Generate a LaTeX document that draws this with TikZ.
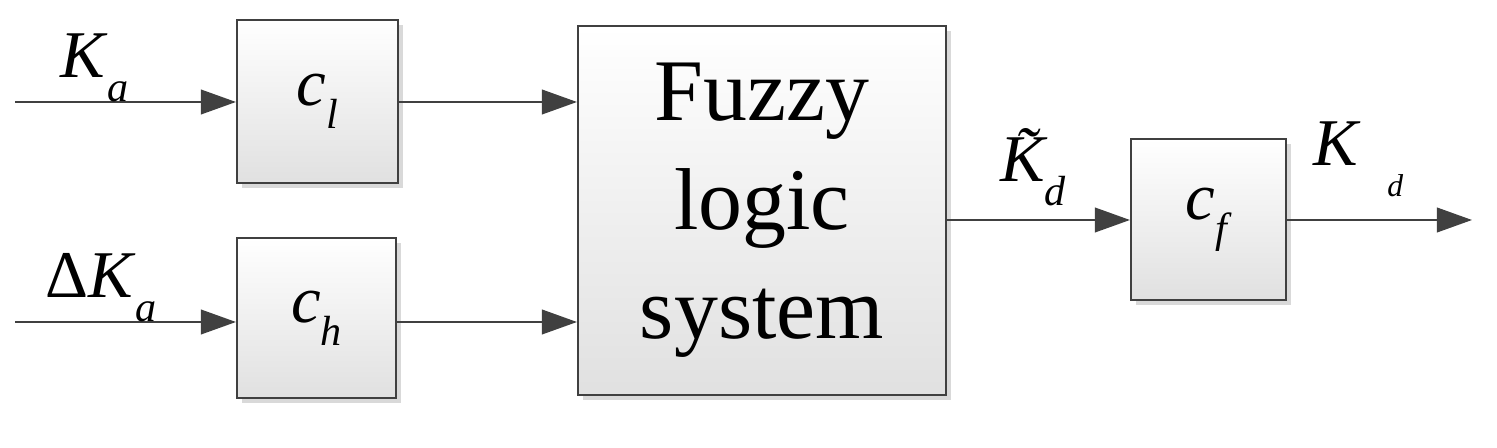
\documentclass[tikz,border=0pt]{standalone}
\usepackage{fontspec}
\setmainfont{Liberation Serif}
\usetikzlibrary{arrows.meta,shadows}
\definecolor{lin}{HTML}{404040}
\newcommand{\msub}[2]{\textit{#1}\raisebox{-0.35em}{\fontsize{24}{24}\selectfont\textit{#2}}}
\begin{document}
\begin{tikzpicture}[x=0.02cm,y=-0.02cm,
    blk/.style={draw=lin,line width=1.2pt,top color=white,bottom color=black!12,
      drop shadow={shadow xshift=3pt,shadow yshift=-3pt,fill=black!25,opacity=0.6}},
    sig/.style={draw=lin,line width=1.3pt,-{Triangle[length=20pt,width=14pt]}},
    lbl/.style={font=\fontsize{38}{40}\selectfont},
    every node/.style={inner sep=0pt}]
    \useasboundingbox (0,0) rectangle (1497,448);
    % blocks
    \node[blk,minimum width=3.22cm,minimum height=3.26cm] (cl) at (317.5,101.5) {};
    \node[lbl] at (cl) {\msub{c}{l}};
    \node[blk,minimum width=3.18cm,minimum height=3.2cm] (ch) at (316.5,318) {};
    \node[lbl] at (ch) {\msub{c}{h}};
    \node[blk,minimum width=7.36cm,minimum height=7.38cm,align=center,
      font=\fontsize{50}{62}\selectfont] (fls) at (762,210.5) {Fuzzy\\logic\\system};
    \node[blk,minimum width=3.1cm,minimum height=3.22cm] (cf) at (1208.5,219.5) {};
    \node[lbl] at (cf) {\msub{c}{f}};
    % free ends
    \coordinate (ina) at (15,102);
    \coordinate (inb) at (15,322);
    \coordinate (out) at (1472,220);
    % signals
    \draw[sig] (ina) -- (cl.west |- ina);
    \draw[sig] (inb) -- (ch.west |- inb);
    \draw[sig] (cl.east |- ina) -- (fls.west |- ina);
    \draw[sig] (ch.east |- inb) -- (fls.west |- inb);
    \draw[sig] (fls.east |- out) -- (cf.west |- out);
    \draw[sig] (cf.east |- out) -- (out);
    % labels
    \node[lbl,anchor=base west] (lka) at (60,78) {\msub{K}{a}};
    \node[lbl,anchor=base west] (ldka) at (45,298) {Δ\msub{K}{a}};
    \node[lbl,anchor=base west] (lkt) at (1000,182) {\textit{K\llap{\raisebox{0.12em}{\char"02DC}\kern0.12em}}\raisebox{-0.35em}{\fontsize{24}{24}\selectfont\textit{d}}};
    \node[lbl,anchor=base west] (lkd) at (1313,166) {\textit{K}\hspace{0.4em}\raisebox{-0.45em}{\fontsize{18}{18}\selectfont\textit{d}}};
\end{tikzpicture}
\end{document}
